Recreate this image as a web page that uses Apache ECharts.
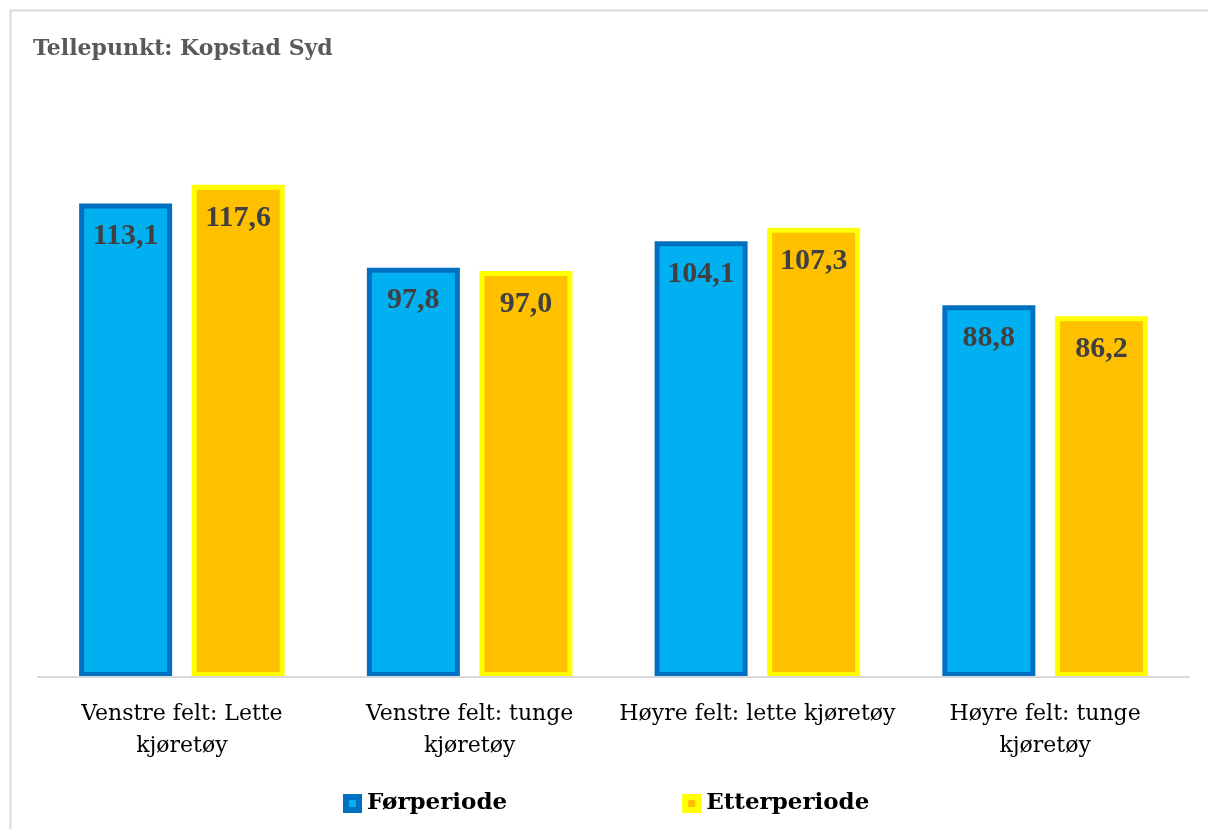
<!DOCTYPE html>
<html>
<head>
<meta charset="utf-8">
<script src="https://cdn.jsdelivr.net/npm/echarts@6/dist/echarts.min.js"></script>
<style>
  html, body { margin: 0; padding: 0; background: #fff; }
  #chart { width: 1208px; height: 829px; }
</style>
</head>
<body>
<div id="chart"></div>
<script>
// Average speed per lane and vehicle class, before and after period
const titleText = 'Tellepunkt: Kopstad Syd';
const categories = [
  'Venstre felt: Lette\nkjøretøy',
  'Venstre felt: tunge\nkjøretøy',
  'Høyre felt: lette kjøretøy',
  'Høyre felt: tunge\nkjøretøy'
];
const seriesNames = ['Førperiode', 'Etterperiode'];
const forperiode = [113.1, 97.8, 104.1, 88.8];
const etterperiode = [117.6, 97.0, 107.3, 86.2];

const serif = '"Liberation Serif", serif';
const wideSerif = '"DejaVu Serif", serif';
const fmt = p => p.value.toFixed(1).replace('.', ',');

const valueLabel = {
  show: true,
  position: 'insideTop',
  distance: 18,
  formatter: fmt,
  fontFamily: serif,
  fontWeight: 'bold',
  fontSize: 30,
  color: '#404040'
};

const chart = echarts.init(document.getElementById('chart'), null, { renderer: 'canvas' });
chart.setOption({
  animation: false,
  backgroundColor: '#ffffff',
  graphic: [{
    type: 'rect',
    left: 8, top: 8,
    shape: { width: 1220, height: 840 },
    style: { fill: 'none', stroke: '#d9d9d9', lineWidth: 2 },
    silent: true
  }],
  title: {
    text: titleText,
    left: 28, top: 33,
    textStyle: { fontFamily: wideSerif, fontWeight: 'bold', fontSize: 22, color: '#595959' }
  },
  legend: {
    bottom: 9,
    left: 338,
    itemGap: 175,
    itemWidth: 13,
    itemHeight: 13,
    icon: 'rect',
    data: [
      { name: seriesNames[0], itemStyle: { color: '#00B0F0', borderColor: '#0070C0', borderWidth: 6 } },
      { name: seriesNames[1], itemStyle: { color: '#FFC000', borderColor: '#FFFF00', borderWidth: 6 } }
    ],
    textStyle: { fontFamily: wideSerif, fontWeight: 'bold', fontSize: 23, color: '#000000', padding: [0, 0, 0, 3] }
  },
  grid: { left: 38, right: 19, top: 91, bottom: 152, containLabel: false },
  xAxis: {
    type: 'category',
    data: categories,
    z: 3,
    axisLine: { lineStyle: { color: '#d9d9d9', width: 2 } },
    axisTick: { show: false },
    axisLabel: {
      interval: 0,
      margin: 21,
      fontFamily: wideSerif,
      fontSize: 22,
      lineHeight: 32,
      color: '#000000'
    }
  },
  yAxis: {
    type: 'value',
    min: 0, max: 140,
    show: false,
    splitLine: { show: false }
  },
  series: [
    {
      name: seriesNames[0],
      type: 'bar',
      data: forperiode,
      barWidth: 93,
      barGap: '21%',
      itemStyle: { color: '#00B0F0', borderColor: '#0070C0', borderWidth: 5 },
      label: valueLabel
    },
    {
      name: seriesNames[1],
      type: 'bar',
      data: etterperiode,
      barWidth: 93,
      itemStyle: { color: '#FFC000', borderColor: '#FFFF00', borderWidth: 5 },
      label: valueLabel
    }
  ]
});
</script>
</body>
</html>
